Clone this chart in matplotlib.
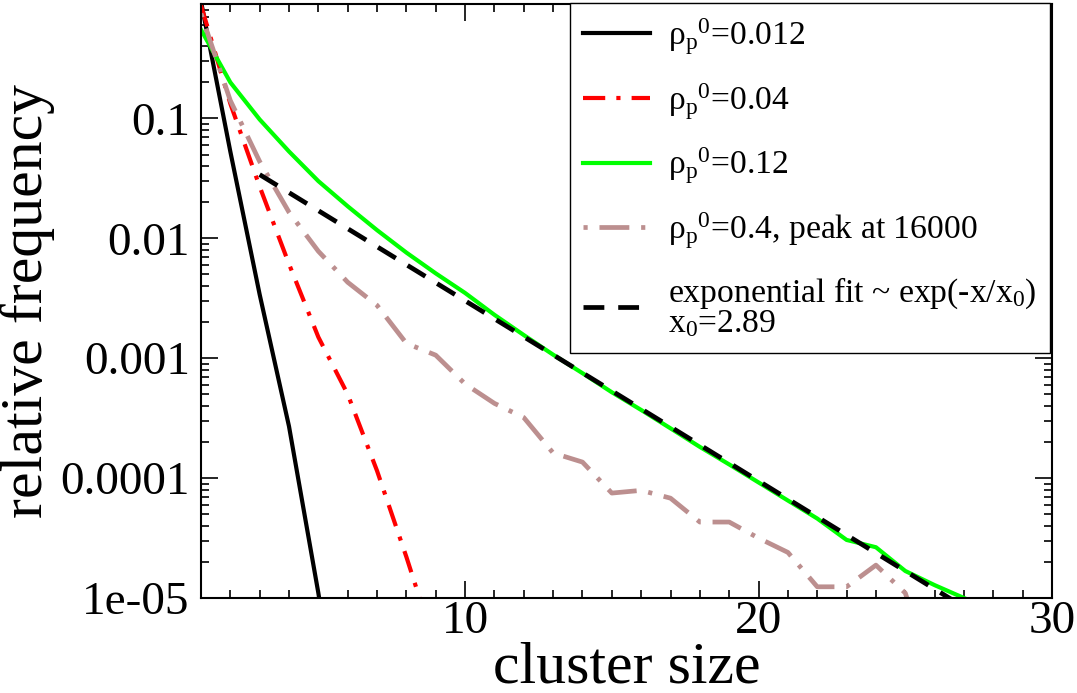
import matplotlib
matplotlib.use("Agg")
import matplotlib.pyplot as plt
from matplotlib.ticker import FixedLocator, FixedFormatter, LogLocator, NullFormatter, MultipleLocator

plt.rcParams['font.family'] = ['Liberation Serif', 'DejaVu Serif']
plt.rcParams['mathtext.fontset'] = 'custom'
plt.rcParams['mathtext.rm'] = 'Liberation Serif'
plt.rcParams['mathtext.it'] = 'Liberation Serif:italic'
plt.rcParams['lines.scale_dashes'] = False

# cluster-size distributions
x_012 = [1, 2, 3, 4, 5, 6]
y_012 = [0.95, 0.053, 0.0034, 0.00027, 1.1e-5, 3e-7]

x_004 = [1, 2, 3, 4, 5, 6, 7, 8, 9]
y_004 = [0.88, 0.133, 0.027, 0.0061, 0.0015, 0.0005, 0.000115, 2.2e-5, 3.8e-6]

x_012b = list(range(1, 28))
y_012b = [0.55, 0.2, 0.098, 0.053, 0.030, 0.0185, 0.0117, 0.0076, 0.0051, 0.0035,
          0.0023, 0.00156, 0.00107, 0.00075, 0.00052, 0.00037, 0.00026, 0.000182,
          0.00013, 9.2e-5, 6.5e-5, 4.6e-5, 3.05e-5, 2.65e-5, 1.68e-5, 1.28e-5, 1.0e-5]

x_04 = list(range(1, 27))
y_04 = [0.75, 0.141, 0.0437, 0.0165, 0.0078, 0.0043, 0.00276, 0.00133, 0.00106, 0.00061,
        0.00042, 0.00032, 0.000162, 0.000136, 7.5e-5, 7.9e-5, 6.8e-5, 4.3e-5, 4.3e-5,
        3.16e-5, 2.4e-5, 1.24e-5, 1.24e-5, 1.88e-5, 1.1e-5, 2e-6]

# end points of the exponential fit (straight on the log axis)
fit_x = [3, 27]
fit_y = [0.034, 8.4e-6]

labels = ['ρ$_\\mathrm{p}{}^\\mathrm{0}$=0.012',
          'ρ$_\\mathrm{p}{}^\\mathrm{0}$=0.04',
          'ρ$_\\mathrm{p}{}^\\mathrm{0}$=0.12',
          'ρ$_\\mathrm{p}{}^\\mathrm{0}$=0.4, peak at 16000',
          'exponential fit ~ exp(-x/x$_\\mathrm{0}$)\nx$_\\mathrm{0}$=2.89']

y_ticks = [1e-5, 1e-4, 1e-3, 1e-2, 1e-1]
y_tick_labels = ['1e-05', '0.0001', '0.001', '0.01', '0.1']
x_ticks = [10, 20, 30]

fig = plt.figure(figsize=(10.77, 6.93), dpi=100)
ax = fig.add_axes([0.1866, 0.1371, 0.7902, 0.8571])

ax.plot(x_012, y_012, color='black', lw=3.0, label=labels[0])
ax.plot(x_004, y_004, color='red', lw=3.0, dashes=(16, 8, 3, 8), label=labels[1])
ax.plot(x_012b, y_012b, color='#00ff00', lw=3.0, label=labels[2])
ax.plot(x_04, y_04, color='#bc8f8f', lw=3.4, dashes=(3, 8.5, 21.5, 8.5), label=labels[3])
ax.plot(fit_x, fit_y, color='black', lw=3.4, dashes=(15, 10), label=labels[4])

ax.set_yscale('log')
ax.set_xlim(1, 30)
ax.set_ylim(1e-5, 0.9)

ax.yaxis.set_major_locator(FixedLocator(y_ticks))
ax.yaxis.set_major_formatter(FixedFormatter(y_tick_labels))
ax.yaxis.set_minor_locator(LogLocator(base=10, subs=range(2, 10), numticks=20))
ax.yaxis.set_minor_formatter(NullFormatter())
ax.xaxis.set_major_locator(FixedLocator(x_ticks))
ax.xaxis.set_minor_locator(MultipleLocator(1))

ax.tick_params(which='both', direction='in', top=True, right=True, labelsize=34)
ax.tick_params(which='major', length=12, width=1.2)
ax.tick_params(which='minor', length=6, width=1.2)
ax.tick_params(axis='y', which='major', pad=8)
ax.tick_params(axis='x', which='major', pad=2)
for sp in ax.spines.values():
    sp.set_linewidth(1.5)

ax.set_xlabel('cluster size', fontsize=43, va='baseline')
ax.xaxis.set_label_coords(0.5, (598 - 683) / 594)
ax.set_ylabel('relative frequency', fontsize=43, labelpad=4)

leg = ax.legend(loc='upper right', bbox_to_anchor=(1050 / 1077, 1 - 3 / 693),
                bbox_transform=fig.transFigure, borderaxespad=0, fontsize=24.2,
                handlelength=2.0, handletextpad=0.53, borderpad=0.4,
                labelspacing=0.72, fancybox=False, framealpha=1)
leg.get_frame().set_edgecolor('black')
leg.get_frame().set_linewidth(1.0)
for t in leg.get_texts():
    t.set_linespacing(0.9)

fig.savefig('out.png', dpi=100)
